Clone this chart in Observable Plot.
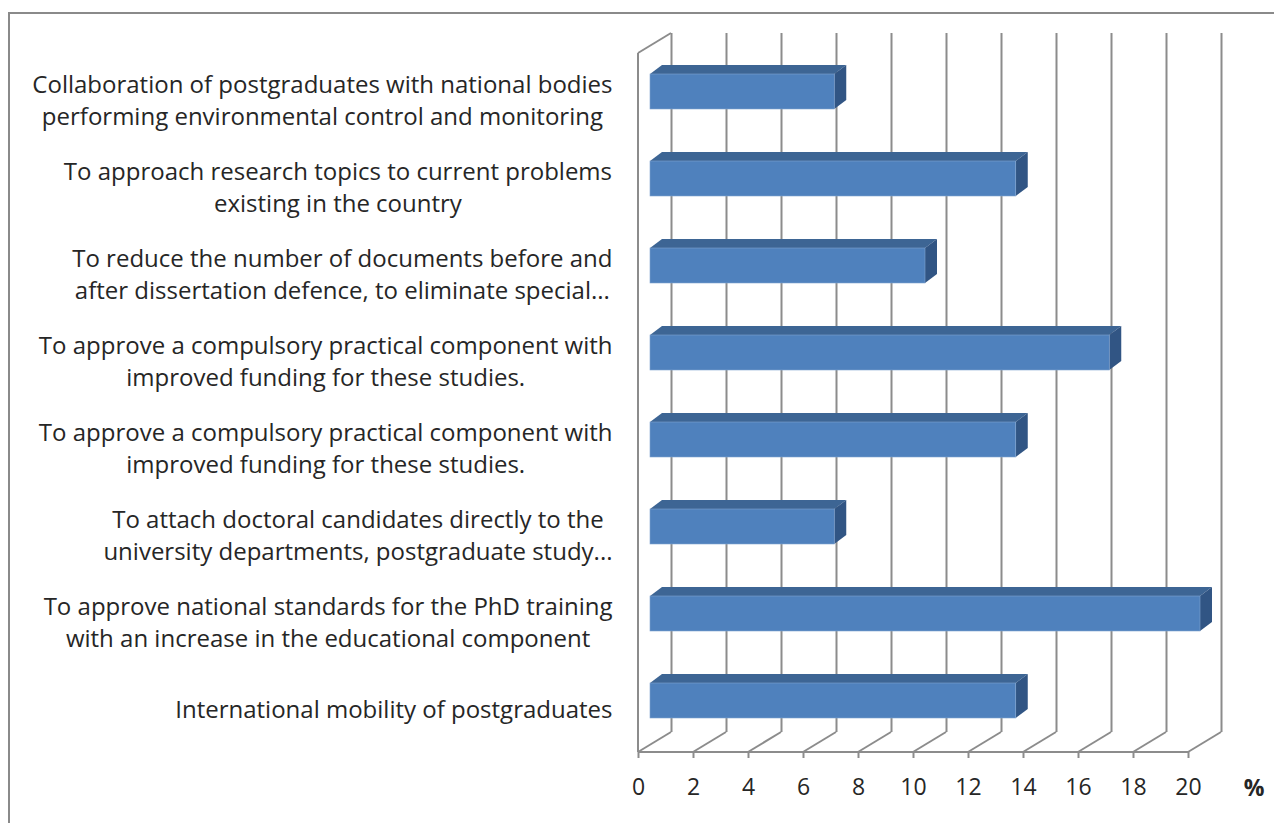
<!DOCTYPE html>
<html>
<head>
<meta charset="utf-8">
<script src="https://cdn.jsdelivr.net/npm/d3@7"></script>
<script src="https://cdn.jsdelivr.net/npm/@observablehq/plot@0.6"></script>
<style>
  html, body { margin: 0; padding: 0; background: #fff; }
  #wrap { position: relative; width: 1274px; height: 823px; overflow: hidden; }
  #border { position: absolute; left: 8px; top: 12px; width: 1300px; height: 900px; border: 2px solid #8a8a8a; box-sizing: border-box; }
  #chart { position: absolute; left: 0; top: 0; }
</style>
</head>
<body>
<div id="wrap"><div id="border"></div><div id="chart"></div></div>
<script>
// ---- data (top to bottom) ----
const categories = [
  "Collaboration of postgraduates with national bodies\nperforming environmental control and monitoring",
  "To approach research topics to current problems\nexisting in the country",
  "To reduce the number of documents before and\nafter dissertation defence, to eliminate special...",
  "To approve a compulsory practical component with\nimproved funding for these studies.",
  "To approve a compulsory practical component with\nimproved funding for these studies.",
  "To attach doctoral candidates directly to the\nuniversity departments, postgraduate study...",
  "To approve national standards for the PhD training\nwith an increase in the educational component",
  "International mobility of postgraduates"
];
const values = [6.7, 13.3, 10.0, 16.7, 13.3, 6.7, 20.0, 13.3];
const xTicks = [0, 2, 4, 6, 8, 10, 12, 14, 16, 18, 20];
const unitLabel = "%";

const data = categories.map((c, i) => ({id: String(i), label: c, value: values[i]}));

const FONT = "'Open Sans', Lato, sans-serif";
// 3D geometry (pixels)
const WALL_DX = 33, WALL_DY = -20;   // depth of the walls
const BAR_DX = 12, BAR_DY = -7;      // bar front face offset
const BAR_TX = 12, BAR_TY = -9;      // bar thickness in depth
const gridColor = "#8c8c8c";
const textColor = "#262626";

function wallsRender(index, scales, values, dim) {
  const g = d3.create("svg:g").attr("stroke", gridColor).attr("stroke-width", 2).attr("fill", "none");
  const yb = dim.height - dim.marginBottom, yt = dim.marginTop, xl = dim.marginLeft;
  for (const i of index) {
    const x = values.x[i];
    g.append("line").attr("x1", x).attr("y1", yb).attr("x2", x + WALL_DX).attr("y2", yb + WALL_DY);
  }
  g.append("line").attr("x1", xl).attr("y1", yt).attr("x2", xl).attr("y2", yb);
  g.append("line").attr("x1", xl).attr("y1", yt).attr("x2", xl + WALL_DX).attr("y2", yt + WALL_DY);
  const xs = Array.from(index, i => values.x[i]);
  g.append("line").attr("x1", d3.min(xs)).attr("y1", yb).attr("x2", d3.max(xs)).attr("y2", yb);
  return g.node();
}

function barsRender(index, scales, values, dim) {
  const g = d3.create("svg:g");
  const bw = scales.y.bandwidth();
  for (const i of index) {
    const x0 = values.x1[i] + BAR_DX, x1 = values.x2[i] + BAR_DX;
    const y0 = values.y[i] + BAR_DY, y1 = y0 + bw;
    g.append("path")
      .attr("d", `M${x0},${y0}L${x1},${y0}L${x1 + BAR_TX},${y0 + BAR_TY}L${x0 + BAR_TX},${y0 + BAR_TY}Z`)
      .attr("fill", "#3d6594");
    g.append("path")
      .attr("d", `M${x1},${y0}L${x1 + BAR_TX},${y0 + BAR_TY}L${x1 + BAR_TX},${y1 + BAR_TY}L${x1},${y1}Z`)
      .attr("fill", "#315584");
    g.append("rect").attr("x", x0).attr("y", y0).attr("width", x1 - x0).attr("height", bw)
      .attr("fill", "#4f81bd").attr("stroke", "#7fa3cf").attr("stroke-width", 0.6);
  }
  return g.node();
}

const chart = Plot.plot({
  width: 1274,
  height: 823,
  marginLeft: 638,
  marginRight: 86,
  marginTop: 53,
  marginBottom: 71,
  style: {fontFamily: FONT, background: "transparent"},
  x: {domain: [0, 20], axis: null},
  y: {domain: data.map(d => d.id), paddingInner: 0.6, paddingOuter: 0.3, axis: null},
  marks: [
    Plot.ruleX(xTicks, {x: d => d, dx: WALL_DX, dy: WALL_DY, stroke: gridColor, strokeWidth: 2}),
    Plot.ruleX(xTicks, {x: d => d, render: wallsRender}),
    Plot.axisX(xTicks, {label: null, tickSize: 6, tickPadding: 20, fontSize: 23, stroke: gridColor, strokeWidth: 2, fill: textColor}),
    Plot.barX(data, {x: "value", y: "id", render: barsRender}),
    Plot.text(data, {y: "id", text: "label", frameAnchor: "left", dx: -26, dy: 0, textAnchor: "end",
      fontSize: 24, lineHeight: 1.34, fill: textColor}),
    Plot.text([unitLabel], {frameAnchor: "bottom-right", dx: 76, dy: 43, fontSize: 23, fontWeight: "bold", fill: textColor})
  ]
});

document.getElementById("chart").append(chart);

// center each wrapped label block on its widest line, which ends at the label edge
d3.select(chart).selectAll("text").filter(function() { return this.querySelector("tspan"); }).each(function() {
  const t = d3.select(this);
  const w = this.getBBox().width;
  t.attr("text-anchor", "middle");
  t.attr("transform", (t.attr("transform") || "") + ` translate(${-w / 2},0)`);
});
</script>
</body>
</html>
